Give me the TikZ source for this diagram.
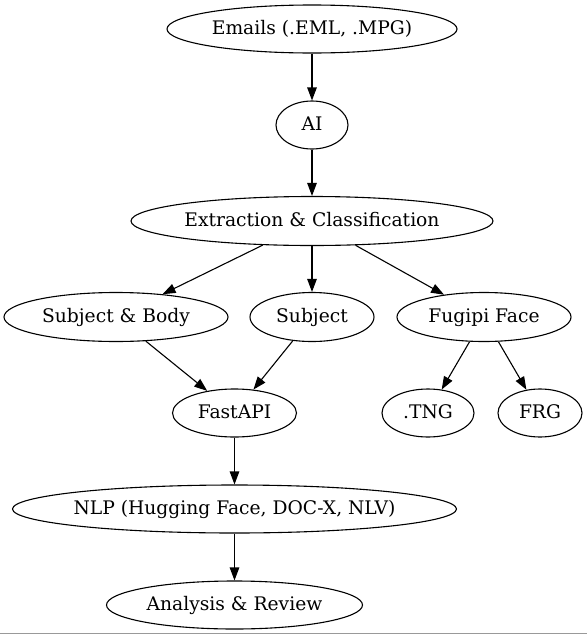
\documentclass[tikz,border=0pt]{standalone}
\usepackage{fontspec}
\setmainfont{DejaVu Serif}
\usetikzlibrary{shapes.geometric,arrows.meta}
\newcommand{\lbl}[1]{\smash{\raisebox{-5.6pt}{\makebox[0pt]{#1}}}}
\tikzset{
  ell/.style={draw, ellipse, inner sep=0pt, line width=1.1pt,
    font=\fontsize{18.7}{22}\selectfont},
  edge/.style={line width=1.1pt, -{Triangle[length=13pt,width=9.5pt]}},
}
\begin{document}
\begin{tikzpicture}[x=1pt,y=-1pt]
\useasboundingbox (0,0) rectangle (587,635);
\node[ell, minimum width=290pt, minimum height=48pt] (em) at (312,29) {\lbl{Emails (.EML, .MPG)}};
\node[ell, minimum width=72pt, minimum height=48pt] (ai) at (312,125) {\lbl{AI}};
\node[ell, minimum width=362pt, minimum height=49pt] (ex) at (312,221) {\lbl{Extraction \& Classification}};
\node[ell, minimum width=224pt, minimum height=49pt] (sb) at (116,317) {\lbl{Subject \& Body}};
\node[ell, minimum width=124pt, minimum height=49pt] (su) at (312,317) {\lbl{Subject}};
\node[ell, minimum width=174pt, minimum height=49pt] (fu) at (484,317) {\lbl{Fugipi Face}};
\node[ell, minimum width=124pt, minimum height=48pt] (fa) at (234.5,413) {\lbl{FastAPI}};
\node[ell, minimum width=92pt, minimum height=48pt] (tn) at (428,413) {\lbl{.TNG}};
\node[ell, minimum width=84pt, minimum height=48pt] (fr) at (540,413) {\lbl{FRG}};
\node[ell, minimum width=444pt, minimum height=48pt] (nl) at (234.5,509) {\lbl{NLP (Hugging Face, DOC-X, NLV)}};
\node[ell, minimum width=256pt, minimum height=48pt] (an) at (234.5,605) {\lbl{Analysis \& Review}};
\draw[edge] (em) -- (ai);
\draw[edge] (ai) -- (ex);
\draw[edge] (ex) -- (sb);
\draw[edge] (ex) -- (su);
\draw[edge] (ex) -- (fu);
\draw[edge] (sb) -- (fa);
\draw[edge] (su) -- (fa);
\draw[edge] (fu) -- (tn);
\draw[edge] (fu) -- (fr);
\draw[edge] (fa) -- (nl);
\draw[edge] (nl) -- (an);
\draw[line width=1pt, color=black!40] (0,633.5) -- (587,633.5);
\end{tikzpicture}
\end{document}
